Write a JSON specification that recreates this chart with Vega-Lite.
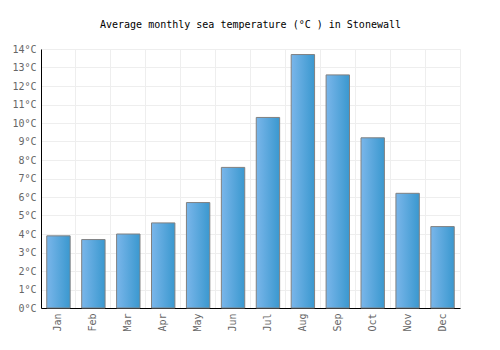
{
  "$schema": "https://vega.github.io/schema/vega-lite/v6.json",
  "autosize": "none",
  "width": 419,
  "height": 259,
  "padding": {"left": 41, "top": 49, "right": 40, "bottom": 42},
  "background": "white",
  "title": {
    "text": "Average monthly sea temperature (°C ) in Stonewall",
    "font": "DejaVu Sans Mono",
    "fontSize": 10,
    "fontWeight": "normal",
    "color": "#000000",
    "anchor": "middle",
    "offset": 14
  },
  "config": {
    "view": {"stroke": "#eeeeee"},
    "axis": {
      "labelFont": "DejaVu Sans Mono",
      "labelFontSize": 10,
      "labelColor": "#666666",
      "domainColor": "#000000",
      "gridColor": "#eeeeee",
      "ticks": false,
      "title": null
    }
  },
  "data": {
    "values": [
      {"month": "Jan", "temp": 3.9},
      {"month": "Feb", "temp": 3.7},
      {"month": "Mar", "temp": 4.0},
      {"month": "Apr", "temp": 4.6},
      {"month": "May", "temp": 5.7},
      {"month": "Jun", "temp": 7.6},
      {"month": "Jul", "temp": 10.3},
      {"month": "Aug", "temp": 13.7},
      {"month": "Sep", "temp": 12.6},
      {"month": "Oct", "temp": 9.2},
      {"month": "Nov", "temp": 6.2},
      {"month": "Dec", "temp": 4.4}
    ]
  },
  "mark": {
    "type": "bar",
    "width": {"band": 0.67},
    "stroke": "#808080",
    "strokeWidth": 1,
    "color": {
      "gradient": "linear",
      "x1": 0, "y1": 0, "x2": 1, "y2": 0,
      "stops": [
        {"offset": 0, "color": "#7ab6ea"},
        {"offset": 1, "color": "#3a98cf"}
      ]
    }
  },
  "encoding": {
    "x": {
      "field": "month",
      "type": "nominal",
      "sort": null,
      "scale": {"paddingInner": 0, "paddingOuter": 0},
      "axis": {
        "labelAngle": -90,
        "labelPadding": 5,
        "grid": true,
        "bandPosition": 0,
        "domainWidth": 1
      }
    },
    "y": {
      "field": "temp",
      "type": "quantitative",
      "scale": {"domain": [0, 14], "nice": false},
      "axis": {
        "values": [0,1,2,3,4,5,6,7,8,9,10,11,12,13,14],
        "labelExpr": "datum.value + '°C'",
        "labelPadding": 5,
        "grid": true,
        "domainWidth": 1
      }
    }
  }
}
